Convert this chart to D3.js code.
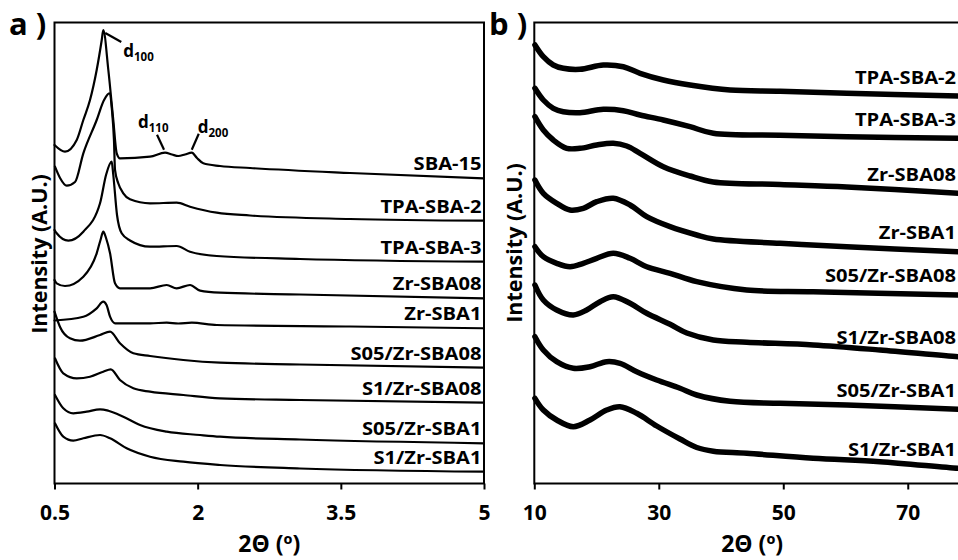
<!DOCTYPE html>
<html>
<head>
<meta charset="utf-8">
<script src="https://cdn.jsdelivr.net/npm/d3@7"></script>
<style>
  html, body { margin: 0; padding: 0; background: #fff; }
  svg { display: block; }
  text { font-family: "Open Sans", "DejaVu Sans", sans-serif; font-weight: 700; fill: #000; }
</style>
</head>
<body>
<svg id="chart" width="958" height="560"></svg>
<script>
// ---------------- DATA ----------------
// Panel a: low-angle XRD, 2θ (°) vs intensity (A.U., stacked offsets)
const aTicks = [0.5, 2, 3.5, 5];
const aNames = ["SBA-15", "TPA-SBA-2", "TPA-SBA-3", "Zr-SBA08", "Zr-SBA1",
                "S05/Zr-SBA08", "S1/Zr-SBA08", "S05/Zr-SBA1", "S1/Zr-SBA1"];

const a_SBA15 = [[0.5,338.5],[0.61,331.8],[0.733,343.5],[0.802,363.5],[0.872,383.5],[0.942,413.5],
  [0.995,443.5],[1.011,453.5],[1.064,413.5],[1.116,363.5],[1.152,330.2],[1.186,325.2],[1.501,326.8],
  [1.658,330.8],[1.731,329],[1.797,327.5],[1.867,329],[1.938,330.8],[1.993,325.5],[2.059,320.2],
  [2.234,317.5],[2.549,315.5],[3.596,310.5],[5.0,305.2]];
const a_TPA2 = [[0.505,316.8],[0.558,305.5],[0.628,297.8],[0.715,301.5],[0.802,330.2],[0.942,363.5],
  [1.019,383.5],[1.074,390.2],[1.102,373.5],[1.123,343.5],[1.134,313.5],[1.168,300.2],[1.221,290.2],
  [1.291,284.2],[1.501,280.2],[1.78,280.8],[1.92,276.8],[2.2,270.8],[2.549,268],[3.596,264.5],[5.0,262.8]];
const a_TPA3 = [[0.5,253.5],[0.523,250.2],[0.645,242.8],[0.802,251.8],[0.977,280.2],[1.04,308.5],
  [1.099,321.8],[1.116,308.5],[1.155,268.5],[1.204,250.2],[1.291,243],[1.501,236.8],[1.78,237.5],
  [1.92,231.8],[2.2,227.5],[3.072,224.5],[5.0,221.8]];
const a_ZrSBA08 = [[0.5,203.5],[0.523,200.2],[0.61,197.5],[0.802,206.8],[0.942,230.2],[0.982,243.5],
  [1.011,251.8],[1.04,245.5],[1.082,230.2],[1.134,200.2],[1.186,195.2],[1.501,195.2],[1.676,198.5],
  [1.78,195.2],[1.92,198.5],[2.025,192.8],[2.234,190.8],[3.072,189],[5.0,185.2]];
const a_ZrSBA1 = [[0.5,163],[0.802,166.8],[0.942,175.2],[1.011,181.8],[1.045,178.5],[1.082,166.8],
  [1.134,160.2],[1.501,160.2],[1.676,160.8],[1.797,160],[1.938,160.8],[2.2,158.5],[3.596,157],[5.0,155.2]];
const a_S05ZrSBA08 = [[0.5,171.8],[0.558,156.5],[0.662,145.2],[0.767,142.8],[0.977,148.5],[1.082,151.8],
  [1.186,140.2],[1.326,130.2],[1.501,127.5],[1.85,123.5],[2.234,120.8],[3.072,119],[5.0,115.8]];
const a_S1ZrSBA08 = [[0.505,125.2],[0.592,110.2],[0.733,105.2],[0.872,106.8],[1.011,111.8],[1.089,114.2],
  [1.186,103.5],[1.326,95.2],[1.501,91.8],[1.85,88.5],[2.234,85.2],[3.072,83.5],[5.0,80.8]];
const a_S05ZrSBA1 = [[0.505,88.5],[0.592,75.2],[0.697,70.2],[0.837,71.8],[0.977,74.2],[1.064,72.8],
  [1.221,66.8],[1.396,58.5],[1.676,51.8],[2.025,48.5],[2.234,46.8],[3.072,44],[5.0,40.2]];
const a_S1ZrSBA1 = [[0.505,60.2],[0.592,46.8],[0.697,42.8],[0.802,45.2],[0.977,48.5],[1.082,45.2],
  [1.256,35.2],[1.501,26.8],[1.85,21.8],[2.234,18.5],[3.072,15],[5.0,11.8]];

const aSeries = [a_SBA15, a_TPA2, a_TPA3, a_ZrSBA08, a_ZrSBA1, a_S05ZrSBA08, a_S1ZrSBA08, a_S05ZrSBA1, a_S1ZrSBA1];

// Reflection labels (Miller indices) on SBA-15 pattern: [index, 2θ, intensity]
const aPeaks = [["100", 1.011, 453.5], ["110", 1.658, 330.8], ["200", 1.938, 330.8]];

// Panel b: wide-angle XRD, 2θ (°) vs intensity
const bTicks = [10, 30, 50, 70];
const bNames = ["TPA-SBA-2", "TPA-SBA-3", "Zr-SBA08", "Zr-SBA1",
                "S05/Zr-SBA08", "S1/Zr-SBA08", "S05/Zr-SBA1", "S1/Zr-SBA1"];

const b_TPA2 = [[10.1,438.5],[11.45,426.8],[13.05,418.5],[14.66,415.2],[17.34,414.2],[21.09,418.5],
  [24.3,416.8],[26.99,410.2],[30.73,403.5],[35.02,398.5],[41.45,393.5],[49.49,392.3],[60.2,390.2],[78.09,387.5],[80,387]];
const b_TPA3 = [[10.1,395.2],[11.45,383.5],[13.05,375.2],[14.66,371.8],[17.34,370.8],[21.09,374.2],
  [24.3,372.8],[26.99,368.5],[30.73,363.5],[35.02,356.8],[38.76,350.2],[49.49,348.3],[60.2,346.8],[78.09,345.2],[80,345]];
const b_ZrSBA08 = [[10.1,366.8],[11.45,353.5],[13.05,343.5],[15.21,335.2],[17.34,335.2],[20.03,338.5],
  [22.69,340.2],[24.85,337.5],[26.99,330.2],[30.73,316.8],[35.02,307.5],[38.76,301.5],[49.49,299],
  [60.2,296.5],[78.09,290.2],[80,289.5]];
const b_ZrSBA1 = [[10.1,303.5],[11.45,290.2],[13.6,280.2],[15.74,273.5],[17.87,275.2],[20.03,281.8],
  [22.69,285.2],[25.38,278.5],[28.06,266.8],[31.81,256.8],[36.1,248.5],[38.76,244.5],[49.49,240.2],
  [60.2,236.8],[78.09,231.8],[80,231.5]];
const b_S05ZrSBA08 = [[10.1,236.8],[11.45,226.8],[13.6,220.2],[15.74,216.8],[17.87,220.2],[20.03,225.2],
  [22.69,230.2],[25.38,225.2],[28.06,216.8],[31.81,210.2],[36.1,201.8],[44.13,193.5],[54.79,191.8],
  [78.09,188.5],[80,188.3]];
const b_S1ZrSBA08 = [[10.1,198.5],[11.45,183.5],[13.6,173.5],[16.27,168.5],[18.42,173.5],[20.56,181.8],
  [22.69,186.8],[25.38,180.2],[28.06,170.2],[31.81,159.2],[34.5,150.5],[38.76,143.5],[44.13,141.3],
  [54.79,138.5],[65.55,133.5],[78.09,126.8],[80,126.3]];
const b_S05ZrSBA1 = [[10.1,146.8],[11.45,133.5],[13.6,121.8],[16.27,115.2],[18.95,116.8],[21.63,121.8],
  [23.77,120.2],[26.46,111.8],[29.67,103.5],[33.41,95.2],[36.1,88.5],[41.45,82.2],[49.49,80.2],
  [60.2,78.5],[78.09,74.2],[80,74]];
const b_S1ZrSBA1 = [[10.1,85.2],[11.45,73.5],[13.6,63.5],[16.27,56.8],[18.95,63.5],[21.63,73.5],
  [23.77,76.8],[26.46,70.2],[29.67,57.5],[33.41,44.5],[36.1,36],[38.76,32.3],[44.13,30.2],
  [54.79,25.2],[65.55,21.8],[78.09,15.2],[80,14.8]];

const bSeries = [b_TPA2, b_TPA3, b_ZrSBA08, b_ZrSBA1, b_S05ZrSBA08, b_S1ZrSBA08, b_S05ZrSBA1, b_S1ZrSBA1];

// ---------------- DRAWING ----------------
const svg = d3.select("#chart");
const yTop = 22.5, yBot = 483.5;
const y = d3.scaleLinear().domain([0, 461]).range([yBot, yTop]);

function panel(opts) {
  const { left, right, domain, ticks, series, names, lineWidth, labelRight, labelDy, tag, tagX, yTitleX, yTitleY, curve } = opts;
  const x = d3.scaleLinear().domain(domain).range([left, right]);
  const g = svg.append("g");

  const line = d3.line().x(d => x(d[0])).y(d => y(d[1])).curve(curve);
  g.selectAll("path.s").data(series).join("path")
    .attr("class", "s")
    .attr("d", line)
    .attr("fill", "none")
    .attr("stroke", "#000")
    .attr("stroke-width", lineWidth)
    .attr("stroke-linejoin", "round")
    .attr("stroke-linecap", "round");

  // frame
  g.append("rect")
    .attr("x", left).attr("y", yTop)
    .attr("width", right - left).attr("height", yBot - yTop)
    .attr("fill", "none").attr("stroke", "#000").attr("stroke-width", 2);

  // x axis
  const ax = g.append("g").attr("transform", `translate(0,${yBot})`)
    .call(d3.axisBottom(x).tickValues(ticks).tickSize(6).tickSizeOuter(0).tickFormat(d3.format("")));
  ax.select(".domain").remove();
  ax.selectAll(".tick line").attr("stroke", "#000").attr("stroke-width", 2);
  ax.selectAll(".tick text")
    .attr("y", 36).attr("dy", 0)
    .style("font-family", "'Open Sans', sans-serif").style("font-weight", 700)
    .style("font-size", "21px").attr("fill", "#000");

  // x title
  g.append("text")
    .attr("x", (left + right) / 2).attr("y", 552)
    .attr("text-anchor", "middle").style("font-size", "23px")
    .text("2Θ (º)");

  // y title
  g.append("text")
    .attr("transform", `translate(${yTitleX},${yTitleY}) rotate(-90)`)
    .attr("text-anchor", "middle").style("font-size", "21.5px")
    .text("Intensity (A.U.)");

  // panel tag
  g.append("text").attr("x", tagX).attr("y", 35)
    .style("font-size", "31px").text(tag);

  // series labels
  g.selectAll("text.lab").data(series).join("text")
    .attr("class", "lab")
    .attr("transform", (d, i) => `translate(${labelRight},${y(d[d.length - 1][1]) + labelDy}) scale(1.15,1)`)
    .attr("text-anchor", "end")
    .style("font-size", "17.5px")
    .text((d, i) => names[i]);

  return { x, g };
}

const A = panel({
  left: 54.5, right: 484, domain: [0.5, 5], ticks: aTicks, series: aSeries, names: aNames,
  lineWidth: 2.2, labelRight: 481.5, labelDy: -8, tag: "a )", tagX: 9,
  yTitleX: 46.5, yTitleY: 254, curve: d3.curveMonotoneX
});

const B = panel({
  left: 534.3, right: 970, domain: [10, 80], ticks: bTicks, series: bSeries, names: bNames,
  lineWidth: 5.5, labelRight: 956, labelDy: -13, tag: "b )", tagX: 489,
  yTitleX: 522, yTitleY: 243, curve: d3.curveCatmullRom.alpha(0.5)
});

// d-spacing annotations on SBA-15 (panel a)
const ann = A.g.append("g");
const leader = [
  { dx1: 2, dy1: 3, dx2: 18, dy2: 12, tx: 20, ty: 27 },   // d100
  { dx1: -1, dy1: -3, dx2: -8, dy2: -18, tx: -27, ty: -25 }, // d110
  { dx1: 0, dy1: -3, dx2: 7, dy2: -19, tx: 6, ty: -20 }    // d200
];
aPeaks.forEach((p, i) => {
  const px = A.x(p[1]), py = y(p[2]), L = leader[i];
  ann.append("line")
    .attr("x1", px + L.dx1).attr("y1", py + L.dy1)
    .attr("x2", px + L.dx2).attr("y2", py + L.dy2)
    .attr("stroke", "#000").attr("stroke-width", 2.2);
  const t = ann.append("text").attr("x", px + L.tx).attr("y", py + L.ty).style("font-size", "17px");
  t.append("tspan").text("d");
  t.append("tspan").attr("dy", 4).style("font-size", "11.5px").text(p[0]);
});
</script>
</body>
</html>
